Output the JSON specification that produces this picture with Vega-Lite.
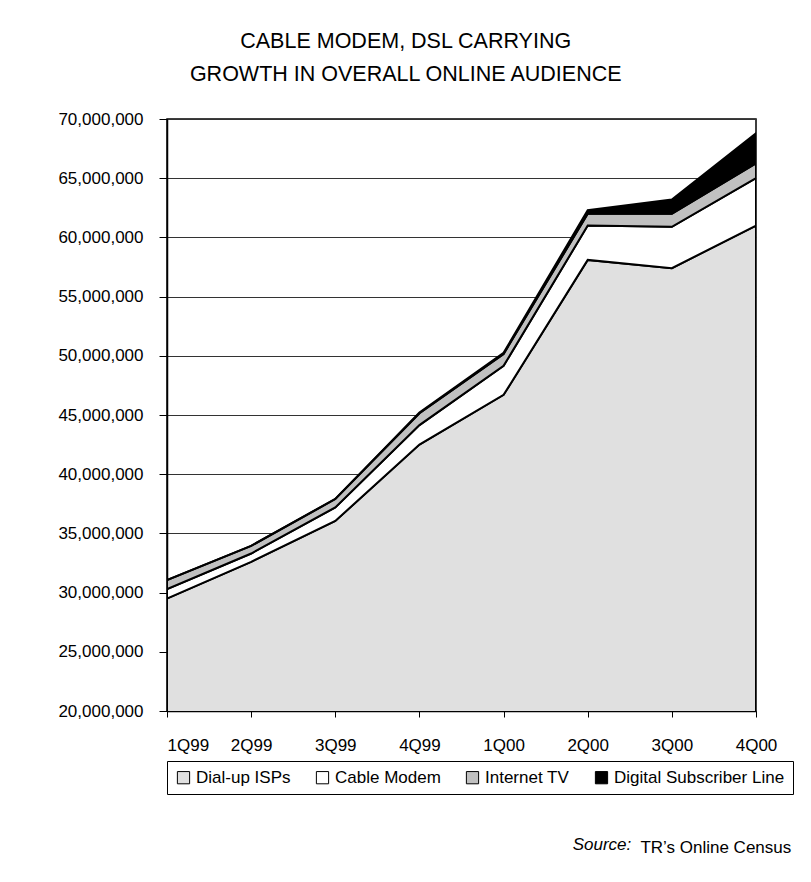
{
  "$schema": "https://vega.github.io/schema/vega-lite/v6.json",
  "padding": {"left": 57, "top": 30, "right": 5, "bottom": 5},
  "background": "white",
  "title": {
    "text": ["CABLE MODEM, DSL CARRYING", "GROWTH IN OVERALL ONLINE AUDIENCE"],
    "font": "Liberation Sans",
    "fontSize": 21.5,
    "fontWeight": "normal",
    "lineHeight": 33,
    "anchor": "middle",
    "frame": "bounds",
    "offset": 24,
    "dx": -20,
    "color": "black"
  },
  "config": {
    "view": {"stroke": "black", "strokeWidth": 1.5},
    "font": "Liberation Sans"
  },
  "resolve": {"legend": {"color": "independent"}},
  "vconcat": [
    {
      "title": {"text": "Source:", "orient": "bottom", "anchor": "end", "font": "Liberation Sans", "fontStyle": "italic", "fontWeight": "normal", "fontSize": 17, "color": "black", "offset": 0, "dx": -163, "dy": -19},
      "resolve": {"legend": {"color": "independent"}},
      "vconcat": [
        {
          "title": {"text": "TR’s Online Census", "orient": "bottom", "anchor": "end", "font": "Liberation Sans", "fontWeight": "normal", "fontSize": 17, "color": "black", "offset": 45, "dx": -3},
          "resolve": {"legend": {"color": "independent"}},
          "vconcat": [
            {
              "width": 589,
              "height": 592,
              "data": {
                "values": [
                  {"q": "1Q99", "s": "Dial-up ISPs", "k": 1, "v": 29500000},
                  {"q": "1Q99", "s": "Cable Modem", "k": 2, "v": 800000},
                  {"q": "1Q99", "s": "Internet TV", "k": 3, "v": 750000},
                  {"q": "1Q99", "s": "Digital Subscriber Line", "k": 4, "v": 0},
                  {"q": "2Q99", "s": "Dial-up ISPs", "k": 1, "v": 32600000},
                  {"q": "2Q99", "s": "Cable Modem", "k": 2, "v": 700000},
                  {"q": "2Q99", "s": "Internet TV", "k": 3, "v": 650000},
                  {"q": "2Q99", "s": "Digital Subscriber Line", "k": 4, "v": 0},
                  {"q": "3Q99", "s": "Dial-up ISPs", "k": 1, "v": 36050000},
                  {"q": "3Q99", "s": "Cable Modem", "k": 2, "v": 1150000},
                  {"q": "3Q99", "s": "Internet TV", "k": 3, "v": 700000},
                  {"q": "3Q99", "s": "Digital Subscriber Line", "k": 4, "v": 20000},
                  {"q": "4Q99", "s": "Dial-up ISPs", "k": 1, "v": 42500000},
                  {"q": "4Q99", "s": "Cable Modem", "k": 2, "v": 1650000},
                  {"q": "4Q99", "s": "Internet TV", "k": 3, "v": 1000000},
                  {"q": "4Q99", "s": "Digital Subscriber Line", "k": 4, "v": 50000},
                  {"q": "1Q00", "s": "Dial-up ISPs", "k": 1, "v": 46700000},
                  {"q": "1Q00", "s": "Cable Modem", "k": 2, "v": 2450000},
                  {"q": "1Q00", "s": "Internet TV", "k": 3, "v": 1000000},
                  {"q": "1Q00", "s": "Digital Subscriber Line", "k": 4, "v": 100000},
                  {"q": "2Q00", "s": "Dial-up ISPs", "k": 1, "v": 58100000},
                  {"q": "2Q00", "s": "Cable Modem", "k": 2, "v": 2900000},
                  {"q": "2Q00", "s": "Internet TV", "k": 3, "v": 1000000},
                  {"q": "2Q00", "s": "Digital Subscriber Line", "k": 4, "v": 300000},
                  {"q": "3Q00", "s": "Dial-up ISPs", "k": 1, "v": 57400000},
                  {"q": "3Q00", "s": "Cable Modem", "k": 2, "v": 3500000},
                  {"q": "3Q00", "s": "Internet TV", "k": 3, "v": 1100000},
                  {"q": "3Q00", "s": "Digital Subscriber Line", "k": 4, "v": 1200000},
                  {"q": "4Q00", "s": "Dial-up ISPs", "k": 1, "v": 61000000},
                  {"q": "4Q00", "s": "Cable Modem", "k": 2, "v": 4000000},
                  {"q": "4Q00", "s": "Internet TV", "k": 3, "v": 1250000},
                  {"q": "4Q00", "s": "Digital Subscriber Line", "k": 4, "v": 2550000}
                ]
              },
              "mark": {"type": "area", "stroke": "black", "strokeWidth": 2, "clip": true, "strokeJoin": "miter"},
              "encoding": {
                "x": {
                  "field": "q",
                  "type": "ordinal",
                  "sort": ["1Q99", "2Q99", "3Q99", "4Q99", "1Q00", "2Q00", "3Q00", "4Q00"],
                  "scale": {"type": "point", "padding": 0},
                  "axis": {
                    "title": null,
                    "labelAngle": 0,
                    "labelFont": "Liberation Sans",
                    "labelFontSize": 17,
                    "labelColor": "black",
                    "labelPadding": 20,
                    "tickSize": 6,
                    "tickColor": "black",
                    "domainColor": "black",
                    "domainWidth": 1.5,
                    "labelAlign": {"condition": {"test": "datum.label == '1Q99'", "value": "left"}, "value": "center"}
                  }
                },
                "y": {
                  "field": "v",
                  "type": "quantitative",
                  "stack": "zero",
                  "scale": {"domain": [20000000, 70000000], "nice": false},
                  "axis": {
                    "title": null,
                    "values": [20000000, 25000000, 30000000, 35000000, 40000000, 45000000, 50000000, 55000000, 60000000, 65000000, 70000000],
                    "format": ",d",
                    "labelFont": "Liberation Sans",
                    "labelFontSize": 17,
                    "labelColor": "black",
                    "labelPadding": 16,
                    "tickSize": 8,
                    "tickColor": "black",
                    "domainColor": "black",
                    "domainWidth": 1.5,
                    "grid": true,
                    "gridColor": "#333333",
                    "gridWidth": 1
                  }
                },
                "color": {
                  "field": "s",
                  "type": "nominal",
                  "scale": {
                    "domain": ["Dial-up ISPs", "Cable Modem", "Internet TV", "Digital Subscriber Line"],
                    "range": ["#e0e0e0", "#ffffff", "#c0c0c0", "#000000"]
                  },
                  "legend": {
                    "title": null,
                    "orient": "bottom",
                    "direction": "horizontal",
                    "columns": 4,
                    "strokeColor": "black",
                    "padding": 8,
                    "offset": 8,
                    "symbolType": "square",
                    "symbolSize": 150,
                    "symbolStrokeColor": "black",
                    "symbolStrokeWidth": 1,
                    "labelFont": "Liberation Sans",
                    "labelFontSize": 17,
                    "labelColor": "black",
                    "labelLimit": 300,
                    "columnPadding": 23,
                    "symbolOpacity": 1
                  }
                },
                "order": {"field": "k", "type": "quantitative"}
              }
            }
          ]
        }
      ]
    }
  ]
}
